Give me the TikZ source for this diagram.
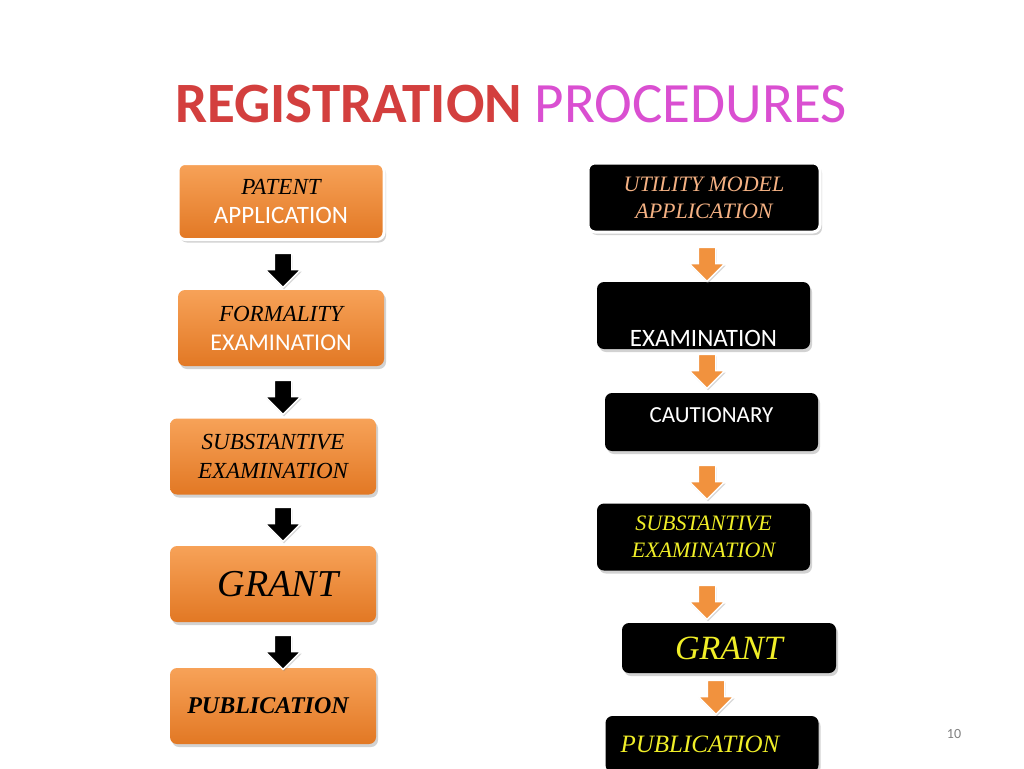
\documentclass[tikz,border=0pt]{standalone}
\usepackage{fontspec}
\setmainfont{Liberation Serif}
\newfontfamily\calibri{Carlito}
\usetikzlibrary{shapes.arrows, shadows, positioning}

\definecolor{titlered}{RGB}{211,63,62}
\definecolor{titlepink}{RGB}{218,79,209}
\definecolor{boxtop}{RGB}{247,162,88}
\definecolor{boxbot}{RGB}{226,120,36}
\definecolor{umtan}{RGB}{244,177,131}
\definecolor{stepyellow}{RGB}{240,238,40}
\definecolor{arroworange}{RGB}{241,146,62}

\begin{document}
\begin{tikzpicture}[x=1pt, y=-1pt,
    obox/.style={rectangle, rounded corners=7pt, top color=boxtop, bottom color=boxbot,
        minimum width=206pt, minimum height=76pt, align=center, inner sep=2pt,
        font=\fontsize{23}{29}\selectfont,
        drop shadow={shadow xshift=2pt, shadow yshift=-3pt, opacity=0.35}},
    bbox/.style={rectangle, rounded corners=7pt, fill=black,
        minimum width=213pt, minimum height=67pt, align=center, inner sep=2pt,
        font=\fontsize{22}{27}\selectfont,
        drop shadow={shadow xshift=2pt, shadow yshift=-3pt, opacity=0.35}},
    rim/.style={draw=white, line width=3pt},
    darrow/.style={single arrow, shape border rotate=270, draw=white, line width=1.5pt,
        minimum height=34pt, minimum width=34pt, single arrow head extend=9pt, inner sep=8pt,
        drop shadow={shadow xshift=1pt, shadow yshift=-2pt, opacity=0.3}},
    sans/.style={font=\calibri\fontsize{25}{28}\selectfont, text=white}]

    \fill[white] (0,0) rectangle (1024,768);
    \useasboundingbox (0,0) rectangle (1024,768);

    % title
    \node (title) at (511,104) {\calibri\fontsize{57}{62}\selectfont
        \textcolor{titlered}{\bfseries REGISTRATION} \textcolor{titlepink}{PROCEDURES}};

    % patent
    \node[obox, rim] (pa) at (281,201.5) {\itshape PATENT\\{\calibri\color{white}\fontsize{25}{28}\selectfont APPLICATION}};
    \node[obox] (pf) at (281,328) {\itshape FORMALITY\\{\calibri\color{white}\fontsize{24}{28}\selectfont EXAMINATION}};
    \node[obox] (ps) at (273,456.5) {\itshape SUBSTANTIVE\\\itshape EXAMINATION};
    \node[obox, font=\fontsize{38}{40}\selectfont] (pg) at (273,584) {\itshape\hspace*{10pt}GRANT};
    \node[obox, font=\fontsize{24}{28}\selectfont\bfseries] (pp) at (273,706) {\itshape PUBLICATION\hspace*{10pt}};

    \node[darrow, fill=black] (pa2) at (283,266) {};
    \node[darrow, fill=black] (pf2) at (283,393) {};
    \node[darrow, fill=black] (ps2) at (283,520) {};
    \node[darrow, fill=black] (pg2) at (283,648) {};

    % utility model
    \node[bbox, rim, minimum width=232pt, minimum height=69pt, text=umtan] (ua) at (704,197.5)
        {\itshape UTILITY MODEL\\\itshape APPLICATION};
    \node[bbox] (ue) at (703.5,315.5) {};
    \node[sans, anchor=base] (uet) at ([yshift=3pt]ue.south) {EXAMINATION};
    \node[bbox, minimum height=58pt] (uc) at (711.5,422) {};
    \node[sans, font=\calibri\fontsize{23}{26}\selectfont, anchor=base] (uct) at ([yshift=-30pt]uc.north) {CAUTIONARY};
    \node[bbox, text=stepyellow] (us) at (703.5,537) {\itshape SUBSTANTIVE\\\itshape EXAMINATION};
    \node[bbox, minimum width=214pt, minimum height=50pt, text=stepyellow,
        font=\fontsize{34}{36}\selectfont] (ug) at (729,648) {\raisebox{-6pt}{\itshape GRANT}};
    \node[bbox, minimum height=56pt, text=stepyellow, font=\fontsize{25}{28}\selectfont] (up) at (712,744)
        {\itshape PUBLICATION\hspace*{24pt}};

    \node[darrow, fill=arroworange] (ua2) at (707,260) {};
    \node[darrow, fill=arroworange] (ue2) at (707,367) {};
    \node[darrow, fill=arroworange] (uc2) at (707,478) {};
    \node[darrow, fill=arroworange] (us2) at (707,598) {};
    \node[darrow, fill=arroworange] (ug2) at (716,693) {};

    \node[font=\calibri\fontsize{14}{14}\selectfont, text=gray] (page) at (954,734) {10};
\end{tikzpicture}
\end{document}
